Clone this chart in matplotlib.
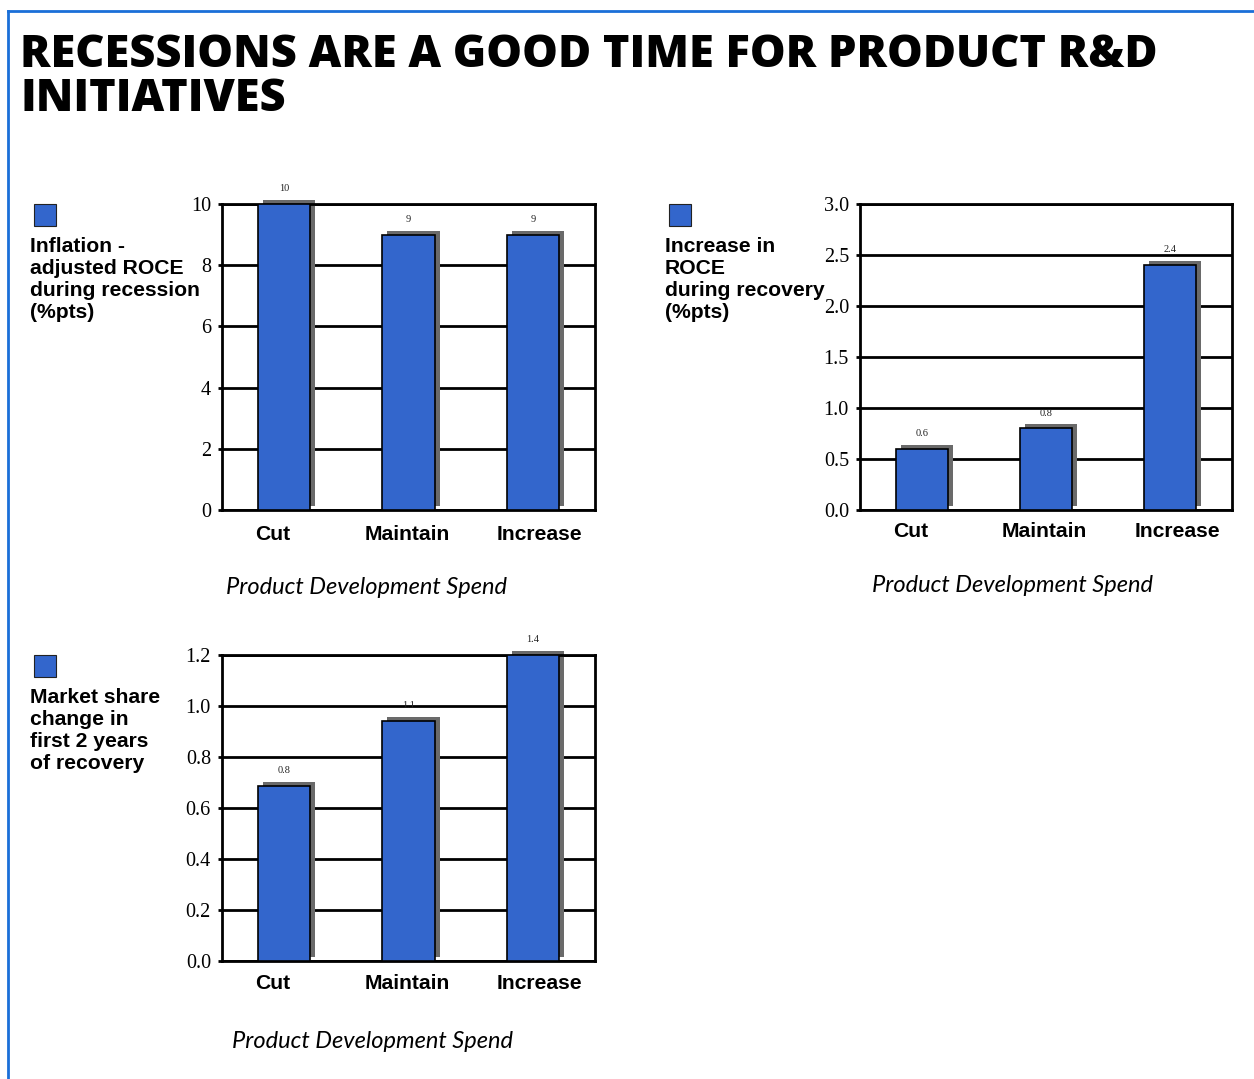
import numpy as np
import matplotlib
matplotlib.use("Agg")
import matplotlib.pyplot as plt
from matplotlib.transforms import ScaledTranslation
from matplotlib.patches import Rectangle
from matplotlib.lines import Line2D

# ---- data ----
categories = ["Cut", "Maintain", "Increase"]

roce_recession = [10, 9, 9]
roce_recession_ticks = [0, 2, 4, 6, 8, 10]
roce_recession_ticklabels = ["0", "2", "4", "6", "8", "10"]

roce_recovery = [0.6, 0.8, 2.4]
roce_recovery_ticks = [0.0, 0.5, 1.0, 1.5, 2.0, 2.5, 3.0]
roce_recovery_ticklabels = ["0.0", "0.5", "1.0", "1.5", "2.0", "2.5", "3.0"]

share_change = [0.8, 1.1, 1.4]
share_change_ticks = list(np.linspace(0, 1.4, 7))
share_change_ticklabels = ["0.0", "0.2", "0.4", "0.6", "0.8", "1.0", "1.2"]

title = "RECESSIONS ARE A GOOD TIME FOR PRODUCT R&D\nINITIATIVES"
xlabel = "Product Development Spend"

BLUE = "#3366CC"
SHADOW = "#6a6a6a"
FRAME = "#1a6fd8"

W, H = 1254, 1079
fig = plt.figure(figsize=(W / 100, H / 100), dpi=100)


def px_axes(left, top, right, bottom):
    return fig.add_axes([left / W, 1 - bottom / H, (right - left) / W, (bottom - top) / H])


def bar_panel(ax, values, ylim, ticks, ticklabels, fmt, label_drop=25):
    x = np.arange(len(categories))
    shift = ax.transData + ScaledTranslation(5 / 100, 4 / 100, fig.dpi_scale_trans)
    ax.bar(x, values, width=0.42, color=SHADOW, edgecolor="none",
           transform=shift, clip_on=False, zorder=2)
    ax.bar(x, values, width=0.42, color=BLUE, edgecolor="black",
           linewidth=1.2, zorder=3)
    for xi, v in zip(x, values):
        ax.annotate(fmt.format(v), (xi, min(v, ylim[1])), xytext=(0, 11),
                    textcoords="offset points", ha="center", va="center",
                    fontsize=7.5, family="Liberation Serif", color="#222222",
                    annotation_clip=False, zorder=1)
    ax.set_xlim(-0.5, len(categories) - 0.5)
    ax.set_ylim(*ylim)
    ax.set_yticks(ticks)
    ax.set_yticklabels(ticklabels, family="Liberation Serif", fontsize=14.5)
    ax.set_xticks(x)
    ax.set_xticklabels([])
    ax.tick_params(axis="x", length=0)
    # category labels, sitting slightly off their bar centres
    for xi, cat, dx in zip(x, categories, (-8, -1, 5)):
        ax.annotate(cat, (xi, 0), xycoords=("data", "axes fraction"),
                    xytext=(dx, -label_drop), textcoords="offset points",
                    ha="center", va="center", family="Liberation Sans",
                    fontweight="bold", fontsize=15.2, annotation_clip=False)
    ax.tick_params(axis="y", length=3, width=2, pad=5, direction="out")
    ax.yaxis.grid(True, color="black", linewidth=2)
    ax.set_axisbelow(True)
    for s in ax.spines.values():
        s.set_linewidth(2)


# panel 1
ax1 = px_axes(222, 204, 595, 510)
bar_panel(ax1, roce_recession, (0, 10), roce_recession_ticks,
          roce_recession_ticklabels, "{:g}", label_drop=18)
# panel 2
ax2 = px_axes(860, 204, 1232, 510)
bar_panel(ax2, roce_recovery, (0, 3.0), roce_recovery_ticks,
          roce_recovery_ticklabels, "{:g}", label_drop=15.5)
# panel 3
ax3 = px_axes(222, 655, 595, 961)
bar_panel(ax3, share_change, (0, 1.4), share_change_ticks,
          share_change_ticklabels, "{:g}", label_drop=16)

side_texts = [
    (34, 204, 30, 237, "Inflation -\nadjusted ROCE\nduring recession\n(%pts)"),
    (669, 204, 665, 237, "Increase in\nROCE\nduring recovery\n(%pts)"),
    (34, 655, 30, 688, "Market share\nchange in\nfirst 2 years\nof recovery"),
]
for sqx, sqy, tx, ty, txt in side_texts:
    fig.patches.append(Rectangle((sqx / W, 1 - (sqy + 22) / H), 22 / W, 22 / H,
                                 transform=fig.transFigure, facecolor=BLUE,
                                 edgecolor="#222222", lw=0.8))
    fig.text(tx / W, 1 - ty / H, txt, family="Liberation Sans", fontweight="bold",
             fontsize=15.2, va="top", ha="left", linespacing=1.2)

for cx, cy in [(367, 588), (1013, 585), (373, 1041)]:
    fig.text(cx / W, 1 - cy / H, xlabel, family="Lato", style="italic",
             fontsize=17, ha="center", va="center")

fig.text(20 / W, 1 - 33 / H, title, family="Open Sans", fontweight=800,
         fontsize=32.5, ha="left", va="top", linespacing=0.98)

# outer frame on the top and left
fig.add_artist(Line2D([8 / W, 1], [1 - 11 / H, 1 - 11 / H], color=FRAME, lw=2,
                      transform=fig.transFigure))
fig.add_artist(Line2D([8 / W, 8 / W], [0, 1 - 11 / H], color=FRAME, lw=2,
                      transform=fig.transFigure))

fig.savefig("out.png", dpi=100, facecolor="white")
